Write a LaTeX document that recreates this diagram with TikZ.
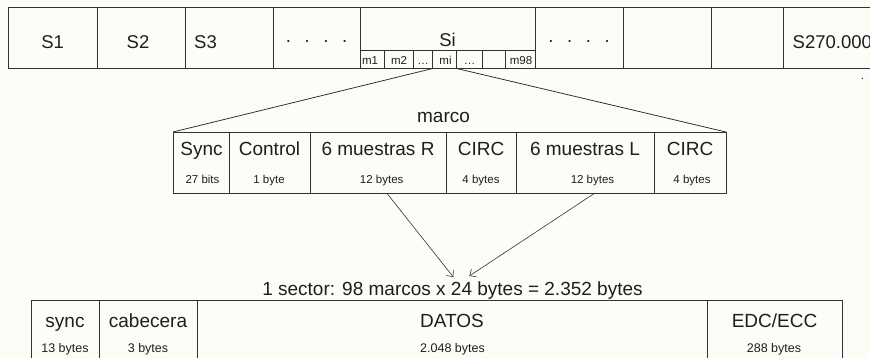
\documentclass[tikz,border=0pt]{standalone}
\usepackage{fontspec}
\setmainfont{Liberation Sans}
\usetikzlibrary{arrows.meta,calc}
\definecolor{bg}{RGB}{253,253,248}
\definecolor{ln}{RGB}{50,50,50}
\definecolor{tx}{RGB}{30,30,30}
\begin{document}
\begin{tikzpicture}[x=1pt,y=-1pt,
  cell/.style={draw=ln, line width=0.8pt, inner sep=0pt, outer sep=0pt, rectangle},
  toplbl/.style={font=\fontsize{18.5}{21}\selectfont, text=tx, inner sep=0pt, anchor=base},
  biglbl/.style={font=\fontsize{19}{22}\selectfont, text=tx, inner sep=0pt, anchor=base},
  sublbl/.style={font=\fontsize{11.5}{13}\selectfont, text=tx, inner sep=0pt, anchor=base},
  smalllbl/.style={font=\fontsize{11.5}{13}\selectfont, text=tx, inner sep=0pt, anchor=base},
  botsmall/.style={font=\fontsize{12.5}{14}\selectfont, text=tx, inner sep=0pt, anchor=base},
  fanline/.style={draw=ln, line width=0.8pt},
  arr/.style={draw=ln, line width=0.6pt, -{Straight Barb[length=5pt,width=9pt]}}
]
\path[fill=bg] (0,0) rectangle (870,358);
\useasboundingbox (0,0) rectangle (870,358);
\clip (0,0) rectangle (870,358);

% ---------- top row of sectors (y 7 .. 68.5)
\node[cell, minimum width=89pt,  minimum height=61.5pt] (s1) at (52.5,37.75) {};
\node[cell, minimum width=88pt,  minimum height=61.5pt] (s2) at (141,37.75) {};
\node[cell, minimum width=88pt,  minimum height=61.5pt] (s3) at (229,37.75) {};
\node[cell, minimum width=87pt,  minimum height=61.5pt] (dA) at (316.5,37.75) {};
\node[cell, minimum width=175pt, minimum height=61.5pt] (si) at (447.5,37.75) {};
\node[cell, minimum width=88pt,  minimum height=61.5pt] (dB) at (579,37.75) {};
\node[cell, minimum width=88pt,  minimum height=61.5pt] (e1) at (667,37.75) {};
\node[cell, minimum width=72pt,  minimum height=61.5pt] (e2) at (747,37.75) {};
\node[cell, minimum width=177pt, minimum height=61.5pt] (sN) at (871.5,37.75) {};

\node[toplbl] (s1t) at (52.7,48.3) {S1};
\node[toplbl] (s2t) at (138,48.3) {S2};
\node[toplbl] (s3t) at (205.5,48.3) {S3};
\node[toplbl] (dAt) at (316.5,46.5) {·\hspace{12.6pt}·\hspace{12.6pt}·\hspace{12.6pt}·};
\node[toplbl] (sit) at (447.5,46.3) {Si};
\node[toplbl] (dBt) at (579,46.5) {·\hspace{12.6pt}·\hspace{12.6pt}·\hspace{12.6pt}·};
\node[toplbl, anchor=base west] (sNt) at (792.5,48.3) {S270.000};

% ---------- frames inside Si (y 50 .. 68.5)
\node[cell, minimum width=24.3pt, minimum height=18.5pt] (m1)  at (372.15,59.25) {};
\node[cell, minimum width=29pt,   minimum height=18.5pt] (m2)  at (398.8,59.25) {};
\node[cell, minimum width=19.4pt, minimum height=18.5pt] (md1) at (423,59.25) {};
\node[cell, minimum width=24pt,   minimum height=18.5pt] (mi)  at (444.7,59.25) {};
\node[cell, minimum width=26pt,   minimum height=18.5pt] (md2) at (469.7,59.25) {};
\node[cell, minimum width=22.3pt, minimum height=18.5pt] (mx)  at (493.85,59.25) {};
\node[cell, minimum width=30pt,   minimum height=18.5pt] (m98) at (520,59.25) {};

\node[sublbl] (m1t)  at (370,64.7) {m1};
\node[sublbl] (m2t)  at (399,64.7) {m2};
\node[sublbl] (md1t) at (423,64.7) {…};
\node[sublbl] (mit)  at (445.5,64.7) {mi};
\node[sublbl] (md2t) at (469.7,64.7) {…};
\node[sublbl] (m98t) at (521,64.7) {m98};

\node[sublbl] (dot) at (862.5,80) {.};

% ---------- marco (y 132 .. 193)
\node[biglbl] (marco) at (443.5,122.3) {marco};
\node[cell, minimum width=56pt,  minimum height=61pt] (sync) at (201,162.5) {};
\node[cell, minimum width=81pt,  minimum height=61pt] (ctrl) at (269.5,162.5) {};
\node[cell, minimum width=136pt, minimum height=61pt] (mR)   at (378,162.5) {};
\node[cell, minimum width=70pt,  minimum height=61pt] (c1)   at (481,162.5) {};
\node[cell, minimum width=138pt, minimum height=61pt] (mL)   at (585,162.5) {};
\node[cell, minimum width=72pt,  minimum height=61pt] (c2)   at (690,162.5) {};

\node[biglbl] (synct) at (201.5,156) {Sync};
\node[biglbl] (ctrlt) at (269.5,156) {Control};
\node[biglbl] (mRt)   at (378,156) {6 muestras R};
\node[biglbl] (c1t)   at (481,156) {CIRC};
\node[biglbl] (mLt)   at (585,156) {6 muestras L};
\node[biglbl] (c2t)   at (690,156) {CIRC};

\node[smalllbl] (syncs) at (202.5,183.5) {27 bits};
\node[smalllbl] (ctrls) at (269,183.5) {1 byte};
\node[smalllbl] (mRs)   at (381.7,183.5) {12 bytes};
\node[smalllbl] (c1s)   at (481,183.5) {4 bytes};
\node[smalllbl] (mLs)   at (592.5,183.5) {12 bytes};
\node[smalllbl] (c2s)   at (692,183.5) {4 bytes};

% fan from mi to marco
\draw[fanline] (mi.south west) -- (sync.north west);
\draw[fanline] (mi.south east) -- (c2.north east);

% ---------- sector
\node[biglbl] (sect) at (452.5,295) {1 sector: 98 marcos x 24 bytes = 2.352 bytes};
\coordinate (tipA) at (453.3,277);
\coordinate (tipB) at (469.3,276);
\draw[arr] ($(mR.south)+(8.7,0)$) -- (tipA);
\draw[arr] ($(mL.south)+(10,0)$) -- (tipB);

\node[cell, minimum width=68pt,  minimum height=70pt] (bsync) at (65,335) {};
\node[cell, minimum width=98pt,  minimum height=70pt] (bcab)  at (148,335) {};
\node[cell, minimum width=510pt, minimum height=70pt] (bdat)  at (452,335) {};
\node[cell, minimum width=135pt, minimum height=70pt] (bedc)  at (774.5,335) {};

\node[biglbl] (bsynct) at (65,327) {sync};
\node[biglbl] (bcabt)  at (148,327) {cabecera};
\node[biglbl] (bdatt)  at (452,327) {DATOS};
\node[biglbl] (bedct)  at (774.5,327) {EDC/ECC};

\node[botsmall] (bsyncs) at (65,352) {13 bytes};
\node[botsmall] (bcabs)  at (148,352) {3 bytes};
\node[botsmall] (bdats)  at (452.5,352) {2.048 bytes};
\node[botsmall] (bedcs)  at (774,352) {288 bytes};
\end{tikzpicture}
\end{document}
